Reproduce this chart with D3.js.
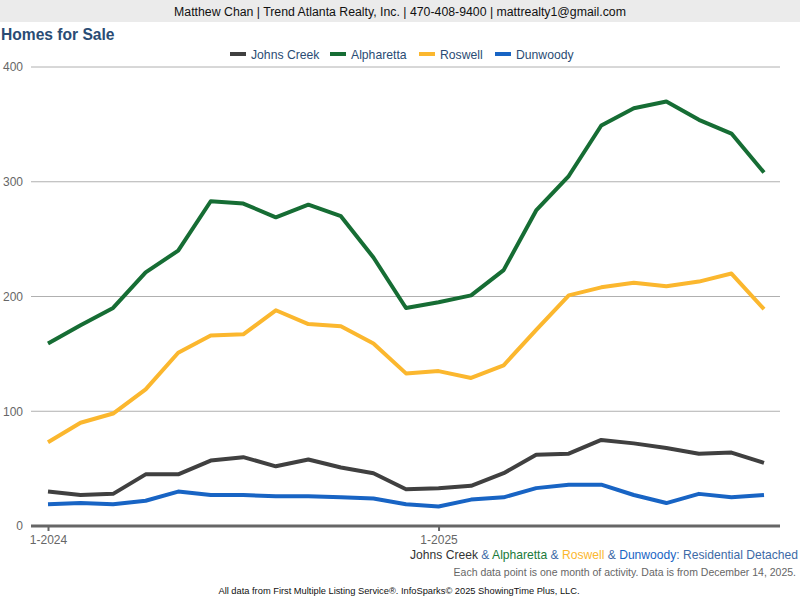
<!DOCTYPE html>
<html>
<head>
<meta charset="utf-8">
<script src="https://cdn.jsdelivr.net/npm/d3@7/dist/d3.min.js"></script>
<style>
  html, body { margin: 0; padding: 0; background: #fff; }
  svg { display: block; font-family: "Liberation Sans", Arial, sans-serif; }
</style>
</head>
<body>
<svg id="chart" width="800" height="600"></svg>
<script>
// ---- Data ----
const months = ["1-2024","2-2024","3-2024","4-2024","5-2024","6-2024","7-2024","8-2024","9-2024","10-2024","11-2024","12-2024",
                "1-2025","2-2025","3-2025","4-2025","5-2025","6-2025","7-2025","8-2025","9-2025","10-2025","11-2025"];
const johnsCreek = [30, 27, 28, 45, 45, 57, 60, 52, 58, 51, 46, 32, 33, 35, 46, 62, 63, 75, 72, 68, 63, 64, 55];
const alpharetta = [159, 175, 190, 221, 240, 283, 281, 269, 280, 270, 234, 190, 195, 201, 223, 275, 305, 349, 364, 370, 354, 342, 308];
const roswell    = [73, 90, 98, 119, 151, 166, 167, 188, 176, 174, 159, 133, 135, 129, 140, 171, 201, 208, 212, 209, 213, 220, 189];
const dunwoody   = [19, 20, 19, 22, 30, 27, 27, 26, 26, 25, 24, 19, 17, 23, 25, 33, 36, 36, 27, 20, 28, 25, 27];
const seriesNames = ["Johns Creek", "Alpharetta", "Roswell", "Dunwoody"];
const seriesColors = ["#404040", "#166d34", "#fbb72e", "#1864c4"];
const yTicks = [0, 100, 200, 300, 400];
const xTickLabels = ["1-2024", "1-2025"];

const seriesValues = [johnsCreek, alpharetta, roswell, dunwoody];

const svg = d3.select("#chart");

// Header band
svg.append("rect").attr("x", 0).attr("y", 0).attr("width", 800).attr("height", 22).attr("fill", "#ebebeb");
svg.append("text").attr("x", 400).attr("y", 15.5).attr("text-anchor", "middle")
  .attr("font-size", 12.3).attr("fill", "#111")
  .text("Matthew Chan | Trend Atlanta Realty, Inc. | 470-408-9400 | mattrealty1@gmail.com");

// Title
svg.append("text").attr("x", 1).attr("y", 40).attr("font-size", 15.6).attr("font-weight", "bold")
  .attr("fill", "#2a4c74").text("Homes for Sale");

// Scales
const x = d3.scalePoint().domain(months).range([48, 764]);
const y = d3.scaleLinear().domain([0, 400]).range([526, 67]);

// Gridlines
const grid = svg.append("g");
grid.selectAll("line").data(yTicks.filter(d => d > 0)).join("line")
  .attr("x1", 31).attr("x2", 780)
  .attr("y1", d => y(d)).attr("y2", d => y(d))
  .attr("stroke", "#b0b0b0").attr("stroke-width", 1);

// Y axis labels
const yAxis = d3.axisLeft(y).tickValues(yTicks).tickSize(0).tickPadding(0);
const yg = svg.append("g").attr("transform", "translate(23,0)").call(yAxis);
yg.select(".domain").remove();
yg.selectAll("text").attr("font-size", 12).attr("fill", "#666")
  .attr("font-family", "'Liberation Sans', Arial, sans-serif");

// X axis
const xAxis = d3.axisBottom(x).tickValues(xTickLabels).tickSize(5).tickPadding(4);
const xg = svg.append("g").attr("transform", "translate(0,526)").call(xAxis);
xg.select(".domain").remove();
xg.selectAll(".tick line").attr("stroke", "#666").attr("stroke-width", 2);
xg.selectAll("text").attr("font-size", 12).attr("fill", "#666")
  .attr("font-family", "'Liberation Sans', Arial, sans-serif");
svg.append("line").attr("x1", 31).attr("x2", 780).attr("y1", 526).attr("y2", 526)
  .attr("stroke", "#666").attr("stroke-width", 3);

// Lines
const line = d3.line().x((d, i) => x(months[i])).y(d => y(d));
svg.append("g").selectAll("path").data(seriesValues).join("path")
  .attr("d", d => line(d))
  .attr("fill", "none")
  .attr("stroke", (d, i) => seriesColors[i])
  .attr("stroke-width", 4)
  .attr("stroke-linejoin", "round");

// Legend
const legendPos = [230, 330, 419, 495];
const lg = svg.append("g");
lg.selectAll("g").data(seriesNames).join("g")
  .attr("transform", (d, i) => `translate(${legendPos[i]},54)`)
  .each(function(d, i) {
    const g = d3.select(this);
    g.append("rect").attr("x", 0).attr("y", -2).attr("width", 16).attr("height", 4).attr("fill", seriesColors[i]);
    g.append("text").attr("x", 21).attr("y", 4.5).attr("font-size", 12.2).attr("fill", "#2a4c74").text(d);
  });

// Bottom subtitle (multi-colour)
const sub = svg.append("text").attr("x", 798).attr("y", 559).attr("text-anchor", "end").attr("font-size", 12.1);
const parts = [
  ["Johns Creek", "#333333"], [" & ", "#3d6aa6"], ["Alpharetta", "#1a7a3a"], [" & ", "#3d6aa6"],
  ["Roswell", "#fbb72e"], [" & ", "#3d6aa6"], ["Dunwoody", "#1864c4"], [": Residential Detached", "#3d6aa6"]
];
parts.forEach(p => sub.append("tspan").attr("fill", p[1]).text(p[0]));

svg.append("text").attr("x", 796).attr("y", 576).attr("text-anchor", "end").attr("font-size", 10.5)
  .attr("fill", "#666").text("Each data point is one month of activity. Data is from December 14, 2025.");

svg.append("text").attr("x", 399).attr("y", 594).attr("text-anchor", "middle").attr("font-size", 9.3)
  .attr("fill", "#111").text("All data from First Multiple Listing Service®. InfoSparks© 2025 ShowingTime Plus, LLC.");
</script>
</body>
</html>
